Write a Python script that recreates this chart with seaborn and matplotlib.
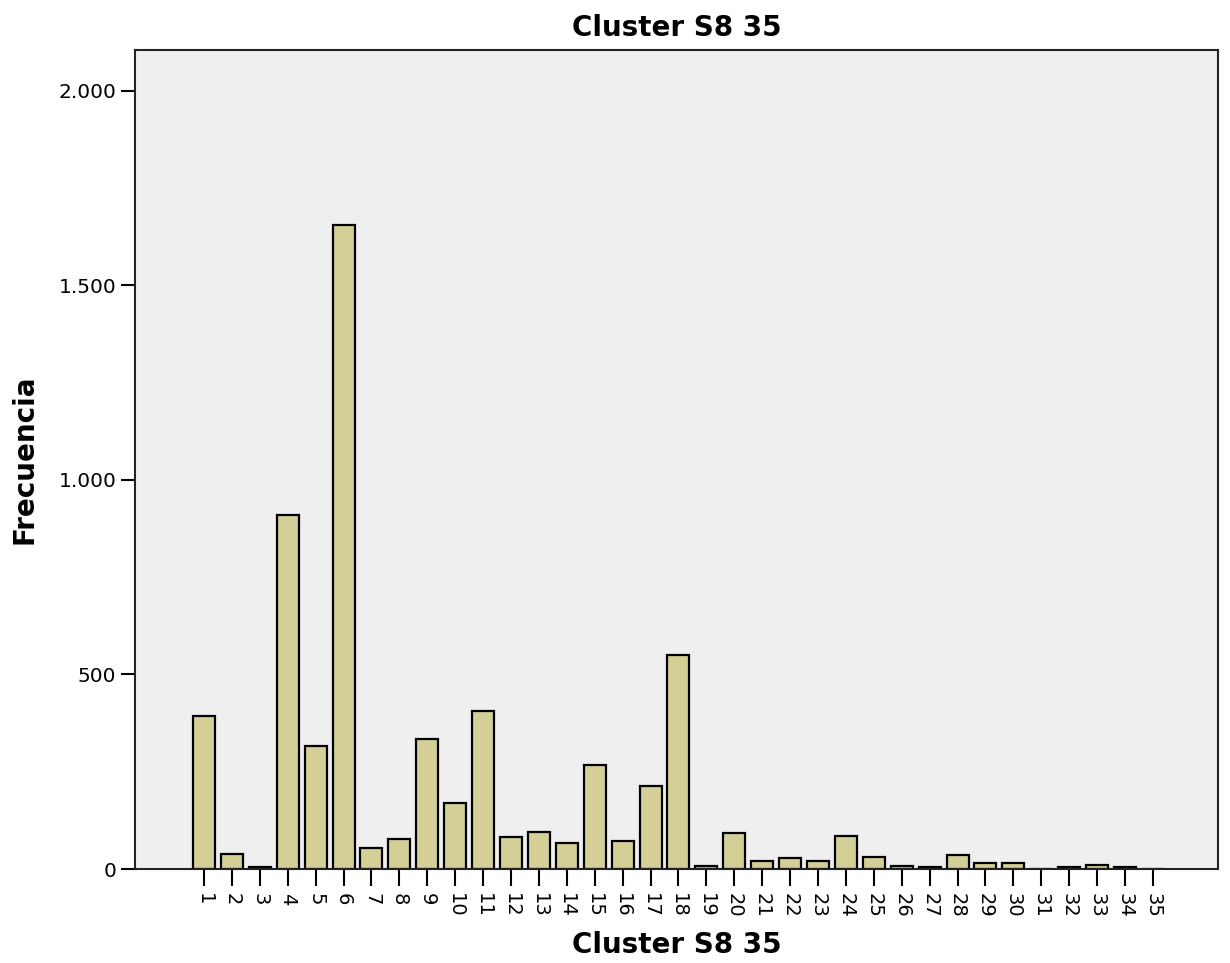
import pandas as pd
import seaborn as sns
import matplotlib.pyplot as plt
from matplotlib.ticker import FuncFormatter

# datos
clusters = [str(i) for i in range(1, 36)]
frecuencia = [394, 39, 4, 910, 316, 1655, 53, 76, 333, 170,
              405, 81, 96, 67, 268, 71, 213, 551, 8, 93,
              20, 28, 20, 86, 31, 9, 4, 36, 15, 15,
              1, 4, 10, 5, 1]
y_ticks = [0, 500, 1000, 1500, 2000]

df = pd.DataFrame({'cluster': clusters, 'frecuencia': frecuencia})

sns.set_style('ticks')
plt.rcParams['font.family'] = ['DejaVu Sans']
plt.rcParams['text.color'] = 'black'
plt.rcParams['axes.labelcolor'] = 'black'
plt.rcParams['xtick.color'] = 'black'
plt.rcParams['ytick.color'] = 'black'

fig = plt.figure(figsize=(12.3, 9.63), dpi=100)
ax = fig.add_axes([0.1098, 0.0976, 0.8804, 0.8505])
ax.set_facecolor('#efefef')

sns.barplot(data=df, x='cluster', y='frecuencia', color='#d3cf97',
            edgecolor='black', linewidth=1.6, width=0.79, saturation=1, ax=ax)

ax.set_xlim(-2.47, 36.33)
ax.set_ylim(0, 2105)
ax.set_yticks(y_ticks)
ax.yaxis.set_major_formatter(FuncFormatter(lambda v, p: f'{int(v):,}'.replace(',', '.')))

ax.tick_params(axis='x', rotation=-90, length=12, width=1.5, labelsize=14, pad=5)
ax.tick_params(axis='y', length=10, width=1.5, labelsize=14.5)
for s in ax.spines.values():
    s.set_linewidth(1.5)
    s.set_color('#222222')

ax.set_xlabel('Cluster S8 35', fontsize=20, fontweight='bold', labelpad=10)
ax.set_ylabel('Frecuencia', fontsize=20, fontweight='bold', labelpad=14)
ax.set_title('Cluster S8 35', fontsize=20, fontweight='bold', pad=10)

plt.savefig('out.png', dpi=100)
